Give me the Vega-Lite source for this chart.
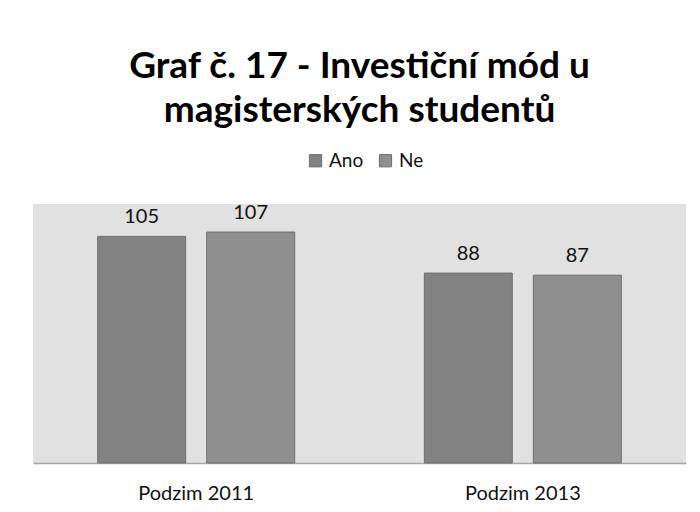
{
  "$schema": "https://vega.github.io/schema/vega-lite/v6.json",
  "autosize": "none",
  "width": 653,
  "height": 259,
  "padding": {"left": 33, "top": 204, "right": 14, "bottom": 49},
  "background": "white",
  "config": {
    "font": "Lato",
    "view": {"fill": "#e1e1e1", "stroke": null}
  },
  "title": {
    "text": ["Graf č. 17 - Investiční mód u", "magisterských studentů"],
    "fontSize": 37,
    "fontWeight": "bold",
    "font": "Lato",
    "color": "#000000",
    "anchor": "middle",
    "offset": 21,
    "lineHeight": 44
  },
  "data": {
    "values": [
      {"obdobi": "Podzim 2011", "odpoved": "Ano", "pocet": 105},
      {"obdobi": "Podzim 2011", "odpoved": "Ne", "pocet": 107},
      {"obdobi": "Podzim 2013", "odpoved": "Ano", "pocet": 88},
      {"obdobi": "Podzim 2013", "odpoved": "Ne", "pocet": 87}
    ]
  },
  "encoding": {
    "x": {
      "field": "obdobi",
      "type": "nominal",
      "scale": {"paddingInner": 0.397, "paddingOuter": 0.198},
      "axis": {
        "title": null,
        "labelAngle": 0,
        "labelFontSize": 20,
        "labelColor": "#111111",
        "labelPadding": 20,
        "ticks": false,
        "domainColor": "#a6a6a6",
        "domainWidth": 1.5
      }
    },
    "xOffset": {
      "field": "odpoved",
      "type": "nominal",
      "scale": {"paddingInner": 0.193, "paddingOuter": 0}
    },
    "y": {
      "field": "pocet",
      "type": "quantitative",
      "scale": {"domain": [0, 120]},
      "axis": null
    }
  },
  "layer": [
    {
      "mark": {"type": "bar", "stroke": "#6e6e6e", "strokeWidth": 1},
      "encoding": {
        "color": {
          "field": "odpoved",
          "type": "nominal",
          "scale": {"domain": ["Ano", "Ne"], "range": ["#828282", "#8f8f8f"]},
          "legend": {
            "title": null,
            "orient": "none",
            "direction": "horizontal",
            "legendX": 273,
            "legendY": -53,
            "symbolType": "square",
            "symbolSize": 150,
            "symbolStrokeColor": "#6e6e6e",
            "symbolStrokeWidth": 1,
            "labelFontSize": 19,
            "labelColor": "#111111",
            "columnPadding": 12,
            "labelOffset": 4
          }
        }
      }
    },
    {
      "mark": {"type": "text", "baseline": "bottom", "dy": -9, "fontSize": 20, "color": "#111111"},
      "encoding": {"text": {"field": "pocet", "type": "quantitative"}}
    }
  ]
}
